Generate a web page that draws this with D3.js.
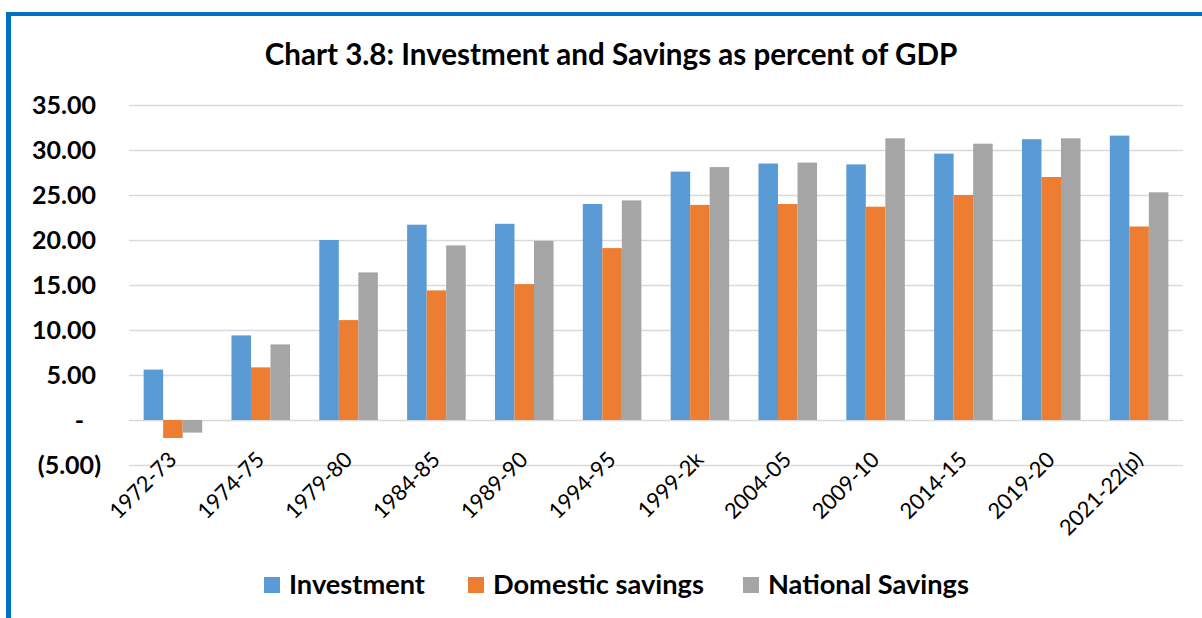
<!DOCTYPE html>
<html><head><meta charset="utf-8">
<script src="https://cdn.jsdelivr.net/npm/d3@7"></script>
<style>
body{margin:0;background:#fff}
svg{display:block}
text{font-family:Lato,"Open Sans",sans-serif;fill:#000}
</style>
</head><body>
<svg id="chart" width="1202" height="618"></svg>
<script>
const categories=["1972-73","1974-75","1979-80","1984-85","1989-90","1994-95","1999-2k","2004-05","2009-10","2014-15","2019-20","2021-22(p)"];
const investment=[5.6,9.4,20.0,21.7,21.8,24.0,27.6,28.5,28.4,29.6,31.2,31.6];
const domesticSavings=[-2.0,5.85,11.1,14.4,15.1,19.1,23.9,24.0,23.7,25.0,27.0,21.5];
const nationalSavings=[-1.4,8.4,16.4,19.4,19.9,24.4,28.1,28.6,31.3,30.7,31.3,25.3];
const seriesNames=["Investment","Domestic savings","National Savings"];
const seriesColors=["#5B9BD5","#ED7D31","#A5A5A5"];
const yTicks=[-5,0,5,10,15,20,25,30,35];
const titleText="Chart 3.8: Investment and Savings as percent of GDP";

const svg=d3.select("#chart");
const W=1202,H=618;
const plot={left:129,right:1183,top:105,bottom:465};
const seriesData=[investment,domesticSavings,nationalSavings];

function fitWidth(sel,target){
  const n=sel.node();const fs=parseFloat(sel.attr("font-size"));
  const w=n.getComputedTextLength();
  sel.attr("font-size",fs*target/w);
}

// border
svg.append("line").attr("x1",6).attr("x2",W).attr("y1",14).attr("y2",14).attr("stroke","#0070C0").attr("stroke-width",4);
svg.append("line").attr("x1",8.5).attr("x2",8.5).attr("y1",12).attr("y2",H).attr("stroke","#0070C0").attr("stroke-width",5);

// title
const t=svg.append("text").attr("x",611).attr("y",65).attr("text-anchor","middle")
  .attr("font-weight","bold").attr("font-size",28).text(titleText);
fitWidth(t,693);

const x=d3.scaleBand().domain(categories).range([plot.left,plot.right]).paddingInner(1.5/4.5).paddingOuter(0.75/4.5);
const x1=d3.scaleBand().domain(seriesNames).range([0,x.bandwidth()]);
const y=d3.scaleLinear().domain([-5,35]).range([plot.bottom,plot.top]);

// gridlines
const yAxis=d3.axisLeft(y).tickValues(yTicks).tickSize(-(plot.right-plot.left)).tickFormat("");
const ga=svg.append("g").attr("transform",`translate(${plot.left},0)`).call(yAxis);
ga.select(".domain").remove();
ga.selectAll(".tick line").attr("stroke","#D9D9D9").attr("stroke-width",1.6);

// y labels
function fmt(v){return v<0?`(${Math.abs(v).toFixed(2)})`:v===0?"-":v.toFixed(2);}
const yl=svg.append("g");
let ref=yl.append("text").attr("font-size",26).attr("font-weight","bold").text("35.00");
fitWidth(ref,64);const yfs=+ref.attr("font-size");ref.remove();
yTicks.forEach(v=>{
  const xx=v<0?101:v===0?84:96;
  yl.append("text").attr("x",xx).attr("y",y(v)).attr("dy","0.36em")
    .attr("text-anchor","end").attr("font-weight","bold").attr("font-size",yfs).text(fmt(v));
});

// bars
const g=svg.append("g");
seriesData.forEach((arr,si)=>{
  g.selectAll(null).data(arr).join("rect")
   .attr("x",(d,i)=>x(categories[i])+x1(seriesNames[si]))
   .attr("width",x1.bandwidth())
   .attr("y",d=>y(Math.max(0,d)))
   .attr("height",d=>Math.abs(y(d)-y(0)))
   .attr("fill",seriesColors[si]);
});

// x labels
const xl=svg.append("g");
let xref=xl.append("text").attr("font-size",20).text("1972-73");
fitWidth(xref,84);const xfs=+xref.attr("font-size");xref.remove();
categories.forEach(c=>{
  const cx=x(c)+x.bandwidth()/2+5;
  xl.append("text").attr("transform",`translate(${cx},461) rotate(-45)`)
    .attr("text-anchor","end").attr("font-size",xfs).text(c);
});

// legend
const lg=svg.append("g");
let lref=lg.append("text").attr("font-size",26).attr("font-weight","bold").text("Investment");
fitWidth(lref,136);const lfs=+lref.attr("font-size");lref.remove();
const legendX=[264,468,743];
seriesNames.forEach((s,i)=>{
  lg.append("rect").attr("x",legendX[i]).attr("y",577).attr("width",16).attr("height",16).attr("fill",seriesColors[i]);
  lg.append("text").attr("x",legendX[i]+25).attr("y",594).attr("font-weight","bold").attr("font-size",lfs).text(s);
});
</script>
</body></html>
